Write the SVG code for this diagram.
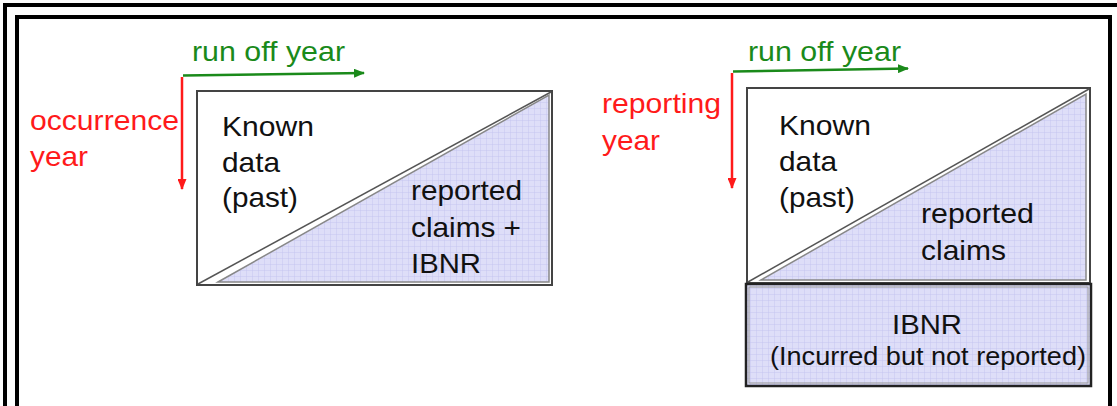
<svg xmlns="http://www.w3.org/2000/svg" width="1117" height="406" viewBox="0 0 1117 406">
<style>
  text { font-family: "Liberation Sans", Arial, sans-serif; }
  .blk { fill: #111; font-size: 28px; }
  .red { fill: #ff1a1a; font-size: 28px; }
  .grn { fill: #1a8a1a; font-size: 28px; }
  .frame { fill: none; stroke: #000; stroke-width: 4; }
  .box { fill: #fff; stroke: #444; stroke-width: 2; }
  .tri { fill: url(#grid); stroke: #888; stroke-width: 1.5; }
  .diag { stroke: #555; stroke-width: 1.5; fill: none; }
</style>
<defs>
  <pattern id="grid" width="6" height="6" patternUnits="userSpaceOnUse">
    <rect width="6" height="6" fill="#dedef8"/>
    <path d="M0 0.25 H6 M0.25 0 V6" stroke="#c2c2ee" stroke-width="0.6"/>
  </pattern>
  <marker id="ag" markerWidth="11" markerHeight="9" refX="10" refY="4.5" orient="auto" markerUnits="userSpaceOnUse">
    <path d="M0 0 L11 4.5 L0 9 Z" fill="#1a8a1a"/>
  </marker>
  <marker id="ar" markerWidth="9" markerHeight="11" refX="4.5" refY="10" orient="0" markerUnits="userSpaceOnUse">
    <path d="M0 0 L9 0 L4.5 11 Z" fill="#ff1a1a"/>
  </marker>
</defs>
<rect width="1117" height="406" fill="#fff"/>
<g id="frame">
  <path class="frame" d="M5 406 V5 H1117"/>
  <path class="frame" d="M17 406 V17 H1110 V406"/>
</g>
<g id="connectors">
  <line x1="183" y1="75.5" x2="364" y2="73" stroke="#1a8a1a" stroke-width="2.5" marker-end="url(#ag)"/>
  <line x1="182" y1="77" x2="182" y2="189" stroke="#ff1a1a" stroke-width="2.5" marker-end="url(#ar)"/>
  <line x1="733" y1="71.5" x2="908" y2="68.5" stroke="#1a8a1a" stroke-width="2.5" marker-end="url(#ag)"/>
  <line x1="732" y1="73" x2="732" y2="188" stroke="#ff1a1a" stroke-width="2.5" marker-end="url(#ar)"/>
</g>
<g id="left-labels">
  <text class="grn" x="192" y="61" textLength="153" lengthAdjust="spacingAndGlyphs">run off year</text>
  <text class="red" x="30" y="130" textLength="149" lengthAdjust="spacingAndGlyphs">occurrence</text>
  <text class="red" x="30" y="166" textLength="58" lengthAdjust="spacingAndGlyphs">year</text>
</g>
<g id="left-triangle">
  <rect class="box" x="197" y="91" width="355" height="194"/>
  <line class="diag" x1="198" y1="284" x2="551" y2="92"/>
  <polygon class="tri" points="218,282 549,95 549,282"/>
  <text class="blk" x="222" y="136" textLength="92" lengthAdjust="spacingAndGlyphs">Known</text>
  <text class="blk" x="222" y="172" textLength="58" lengthAdjust="spacingAndGlyphs">data</text>
  <text class="blk" x="222" y="207" textLength="76" lengthAdjust="spacingAndGlyphs">(past)</text>
  <text class="blk" x="411" y="200" textLength="111" lengthAdjust="spacingAndGlyphs">reported</text>
  <text class="blk" x="411" y="237" textLength="110" lengthAdjust="spacingAndGlyphs">claims +</text>
  <text class="blk" x="411" y="273" textLength="70" lengthAdjust="spacingAndGlyphs">IBNR</text>
</g>
<g id="right-labels">
  <text class="grn" x="748" y="61" textLength="153" lengthAdjust="spacingAndGlyphs">run off year</text>
  <text class="red" x="602" y="113" textLength="119" lengthAdjust="spacingAndGlyphs">reporting</text>
  <text class="red" x="602" y="150" textLength="58" lengthAdjust="spacingAndGlyphs">year</text>
</g>
<g id="right-triangle">
  <rect class="box" x="747" y="88" width="343" height="195"/>
  <line class="diag" x1="748" y1="282" x2="1089" y2="89"/>
  <polygon class="tri" points="761,280 1086,94 1086,280"/>
  <text class="blk" x="779" y="135" textLength="92" lengthAdjust="spacingAndGlyphs">Known</text>
  <text class="blk" x="779" y="171" textLength="58" lengthAdjust="spacingAndGlyphs">data</text>
  <text class="blk" x="779" y="207" textLength="76" lengthAdjust="spacingAndGlyphs">(past)</text>
  <text class="blk" x="921" y="223" textLength="113" lengthAdjust="spacingAndGlyphs">reported</text>
  <text class="blk" x="921" y="260" textLength="85" lengthAdjust="spacingAndGlyphs">claims</text>
</g>
<g id="ibnr-box">
  <rect x="746" y="284" width="345" height="102" fill="url(#grid)" stroke="#222" stroke-width="2.5"/>
  <rect x="749" y="287" width="339" height="96" fill="none" stroke="#999" stroke-width="1"/>
  <text class="blk" x="892" y="334" textLength="70" lengthAdjust="spacingAndGlyphs">IBNR</text>
  <text class="blk" x="770" y="365" style="font-size:25px" textLength="316" lengthAdjust="spacingAndGlyphs">(Incurred but not reported)</text>
</g>
</svg>
